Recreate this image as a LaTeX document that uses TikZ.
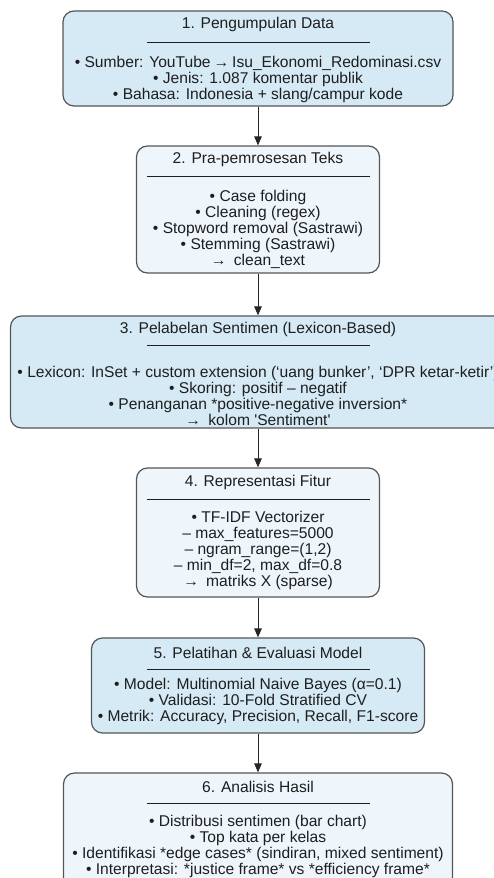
\documentclass[tikz,border=0pt]{standalone}
\usepackage{fontspec}
\setmainfont{Liberation Sans}
\usetikzlibrary{arrows.meta}
\definecolor{boxdark}{HTML}{D6EAF5}
\definecolor{boxlight}{HTML}{EEF6FC}
\definecolor{edgegray}{HTML}{555555}
\definecolor{ink}{HTML}{1E1E1E}
% arrow glyph with a little air on both sides
\newcommand{\thento}{\hspace{3pt}→\hspace{3pt}}
\begin{document}
\begin{tikzpicture}[x=1pt,y=-1pt,
  stage/.style={draw=edgegray, line width=1.2pt, rounded corners=11pt, inner sep=0pt},
  stagetitle/.style={font=\fontsize{15.6}{16}\selectfont, text=ink, inner sep=0pt,
    text height=11.4pt, text depth=3.3pt},
  stagebody/.style={font=\fontsize{15.6}{16}\selectfont, text=ink, align=center, inner sep=0pt},
  sep/.style={draw=ink, line width=0.9pt},
  flow/.style={draw=black!85, line width=0.9pt, -{Triangle[length=9pt,width=7.5pt]}}]
\useasboundingbox (0,0) rectangle (494,878);
\begin{scope}
\clip (0,0) rectangle (494,878);

% boxes
\node[stage, fill=boxdark,  minimum width=390pt, minimum height=95pt]  (b1) at (258,58.5) {};
\node[stage, fill=boxlight, minimum width=243pt, minimum height=127pt] (b2) at (258,209.5) {};
\node[stage, fill=boxdark,  minimum width=495pt, minimum height=112pt] (b3) at (258,372) {};
\node[stage, fill=boxlight, minimum width=243pt, minimum height=129pt] (b4) at (258,532.5) {};
\node[stage, fill=boxdark,  minimum width=333pt, minimum height=95pt]  (b5) at (258,685.5) {};
\node[stage, fill=boxlight, minimum width=389pt, minimum height=120pt] (b6) at (258,833) {};

% connectors
\draw[flow] (b1.south) -- (b2.north);
\draw[flow] (b2.south) -- (b3.north);
\draw[flow] (b3.south) -- (b4.north);
\draw[flow] (b4.south) -- (b5.north);
\draw[flow] (b5.south) -- (b6.north);

% stage 1
\node[stagetitle] (t1) at (258,24) {1. Pengumpulan Data};
\draw[sep] (147,42) -- (370,42);
\node[stagebody] (d1) at (258,79) {• Sumber: YouTube\thento Isu\_Ekonomi\_Redominasi.csv\\
• Jenis: 1.087 komentar publik\\
• Bahasa: Indonesia + slang/campur kode};

% stage 2
\node[stagetitle] (t2) at (258,159) {2. Pra-pemrosesan Teks};
\draw[sep] (147,176) -- (370,176);
\node[stagebody] (d2) at (258,229) {• Case folding\\
• Cleaning (regex)\\
• Stopword removal (Sastrawi)\\
• Stemming (Sastrawi)\\
→\hspace{3pt} clean\_text};

% stage 3
\node[stagetitle] (t3) at (258,329) {3. Pelabelan Sentimen (Lexicon-Based)};
\draw[sep] (147,345) -- (370,345);
\node[stagebody] (d3) at (258,395.5) {• Lexicon: InSet + custom extension (‘uang bunker’, ‘DPR ketar-ketir’)\\
• Skoring: positif – negatif\\
• Penanganan *positive-negative inversion*\\
→\hspace{3pt} kolom \textquotesingle Sentiment\textquotesingle};

% stage 4
\node[stagetitle] (t4) at (258,482) {4. Representasi Fitur};
\draw[sep] (147,499) -- (370,499);
\node[stagebody] (d4) at (258,550) {• TF-IDF Vectorizer\\
– max\_features=5000\\
– ngram\_range=(1,2)\\
– min\_df=2, max\_df=0.8\\
→\hspace{3pt} matriks X (sparse)};

% stage 5
\node[stagetitle] (t5) at (258,654) {5. Pelatihan \& Evaluasi Model};
\draw[sep] (147,669) -- (370,669);
\node[stagebody] (d5) at (258,701.5) {• Model: Multinomial Naive Bayes (α=0.1)\\
• Validasi: 10-Fold Stratified CV\\
• Metrik: Accuracy, Precision, Recall, F1-score};

% stage 6
\node[stagetitle] (t6) at (258,788) {6. Analisis Hasil};
\draw[sep] (147,803) -- (370,803);
\node[stagebody] (d6) at (258,846.5) {• Distribusi sentimen (bar chart)\\
• Top kata per kelas\\
• Identifikasi *edge cases* (sindiran, mixed sentiment)\\
• Interpretasi: *justice frame* vs *efficiency frame*};
\end{scope}
\end{tikzpicture}
\end{document}
